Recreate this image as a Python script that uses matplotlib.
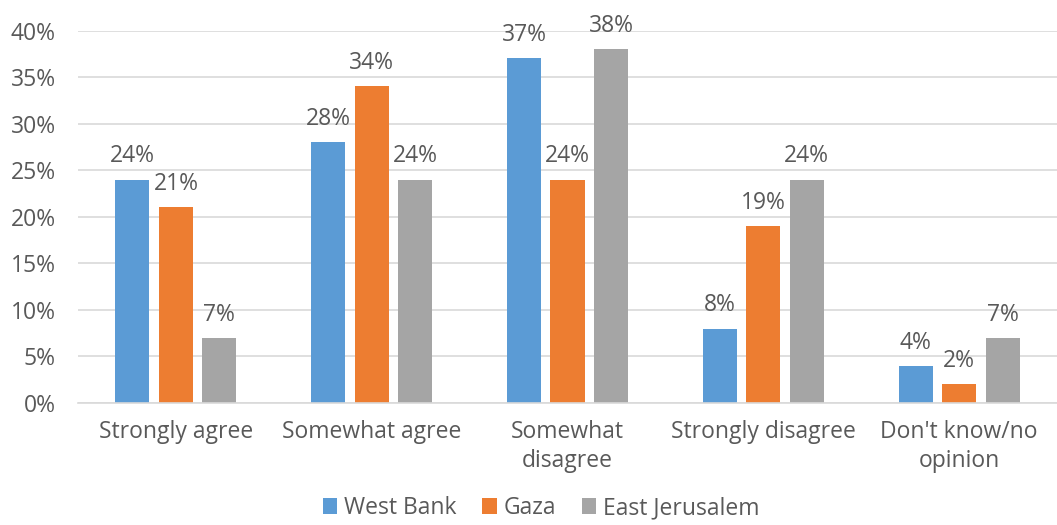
import matplotlib.pyplot as plt
import numpy as np

categories = ["Strongly agree", "Somewhat agree", "Somewhat\ndisagree",
              "Strongly disagree", "Don't know/no\nopinion"]
west_bank = [24, 28, 37, 8, 4]
gaza = [21, 34, 24, 19, 2]
east_jerusalem = [7, 24, 38, 24, 7]
series_names = ["West Bank", "Gaza", "East Jerusalem"]
colors = ["#5B9BD5", "#ED7D31", "#A5A5A5"]

plt.rcParams['font.family'] = ['Open Sans', 'DejaVu Sans']
text_color = "#595959"
fs = 16.5

fig = plt.figure(figsize=(10.57, 5.25), dpi=100)
ax = fig.add_axes([78 / 1057, 1 - 403 / 525, (1057 - 78) / 1057, (403 - 30.5) / 525])

x = np.arange(len(categories))
bar_w = 0.174
step = 0.222
for i, (vals, name, col) in enumerate(zip([west_bank, gaza, east_jerusalem], series_names, colors)):
    pos = x + (i - 1) * step
    bars = ax.bar(pos, vals, width=bar_w, color=col, label=name, zorder=2)
    for p, v in zip(pos, vals):
        ax.text(p, v + 1.2, f"{v}%", ha="center", va="bottom", fontsize=fs, color=text_color)

ax.set_xlim(-0.5, len(categories) - 0.5)
ax.set_ylim(0, 40)
ax.set_yticks(range(0, 41, 5))
ax.set_yticklabels([f"{t}%" for t in range(0, 41, 5)])
ax.set_xticks(x)
ax.set_xticklabels(categories, linespacing=1.3)
ax.tick_params(axis='both', length=0, labelsize=fs, colors=text_color)
ax.tick_params(axis='y', pad=16)
ax.tick_params(axis='x', pad=12)
ax.yaxis.grid(True, color="#D9D9D9", linewidth=1.2, zorder=0)
ax.set_axisbelow(True)
for s in ["top", "right", "left"]:
    ax.spines[s].set_visible(False)
ax.spines["bottom"].set_color("#D9D9D9")
ax.spines["bottom"].set_linewidth(1.2)

leg = fig.legend(loc="lower center", bbox_to_anchor=(0.512, -0.03), ncol=3, frameon=False,
                 fontsize=fs, handlelength=0.65, handleheight=0.65, handletextpad=0.3,
                 columnspacing=1.1)
for t in leg.get_texts():
    t.set_color(text_color)

fig.savefig("out.png", dpi=100)
